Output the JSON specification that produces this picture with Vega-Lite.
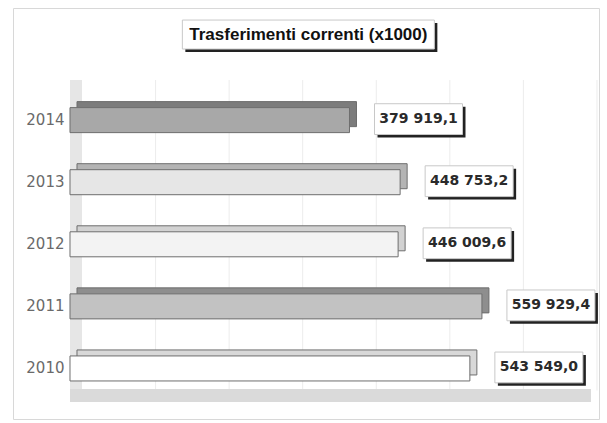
{
  "$schema": "https://vega.github.io/schema/vega-lite/v6.json",
  "width": 586,
  "height": 411,
  "autosize": "none",
  "padding": {"left": 13, "top": 8, "right": 8, "bottom": 4},
  "background": "white",
  "config": {
    "view": {"stroke": "#d8d8d8", "strokeWidth": 1},
    "locale": {"number": {"decimal": ",", "thousands": " ", "grouping": [3], "currency": ["", " €"]}}
  },
  "datasets": {
    "bars": [
      {"year": "2014", "value": 379919.1},
      {"year": "2013", "value": 448753.2},
      {"year": "2012", "value": 446009.6},
      {"year": "2011", "value": 559929.4},
      {"year": "2010", "value": 543549.0}
    ],
    "grid": [
      {"v": 100000}, {"v": 200000}, {"v": 300000}, {"v": 400000}, {"v": 500000}, {"v": 600000}, {"v": 700000}
    ],
    "wall": [{"v": 0}],
    "title": [{"t": "Trasferimenti correnti (x1000)"}]
  },
  "data": {"name": "bars"},
  "resolve": {"scale": {"color": "independent"}},
  "layer": [
    {
      "data": {"name": "grid"},
      "mark": {"type": "rule", "color": "#ececec", "strokeWidth": 1, "xOffset": 12, "x2Offset": 12, "yOffset": 22, "y2Offset": 22},
      "encoding": {
        "x": {"field": "v", "type": "quantitative", "scale": {"domain": [-77480, 719070], "nice": false, "zero": false}, "axis": null},
        "y": {"datum": "T", "type": "nominal"},
        "y2": {"datum": "2010"}
      }
    },
    {
      "data": {"name": "wall"},
      "mark": {"type": "rule", "color": "#e6e6e6", "strokeWidth": 12, "xOffset": 6, "x2Offset": 6, "yOffset": 22, "y2Offset": 22},
      "encoding": {
        "x": {"field": "v", "type": "quantitative"},
        "y": {"datum": "T", "type": "nominal"},
        "y2": {"datum": "2010"}
      }
    },
    {
      "data": {"name": "title"},
      "mark": {"type": "bar", "color": "#dadada", "size": 13, "yOffset": 27, "x2Offset": 6},
      "encoding": {
        "x": {"datum": 0, "type": "quantitative"},
        "x2": {"datum": 700000},
        "y": {"datum": "2010", "type": "nominal"}
      }
    },
    {
      "mark": {"type": "bar", "stroke": "#6e6e6e", "strokeWidth": 1, "xOffset": 7, "x2Offset": 7, "yOffset": -6, "y2Offset": -6},
      "encoding": {
        "y": {"field": "year", "type": "nominal",
          "scale": {"domain": ["T", "2014", "2013", "2012", "2011", "2010"], "range": [19, 391.5], "paddingInner": 0.597, "paddingOuter": 0.2985},
          "axis": {"orient": "left", "offset": -57, "domain": false, "ticks": false, "grid": false, "title": null,
            "labelPadding": 6, "labelFont": "DejaVu Sans", "labelFontSize": 15, "labelColor": "#6a6a6a",
            "labelExpr": "datum.value == 'T' ? '' : datum.label"}},
        "x": {"field": "value", "type": "quantitative"},
        "color": {"field": "year", "type": "nominal", "legend": null,
          "scale": {"domain": ["2014", "2013", "2012", "2011", "2010"], "range": ["#7c7c7c", "#b4b4b4", "#d2d2d2", "#8e8e8e", "#d8d8d8"]}}
      }
    },
    {
      "mark": {"type": "bar", "stroke": "#6e6e6e", "strokeWidth": 1},
      "encoding": {
        "y": {"field": "year", "type": "nominal"},
        "x": {"field": "value", "type": "quantitative"},
        "color": {"field": "year", "type": "nominal", "legend": null,
          "scale": {"domain": ["2014", "2013", "2012", "2011", "2010"], "range": ["#a8a8a8", "#e6e6e6", "#f3f3f3", "#c2c2c2", "#ffffff"]}}
      }
    },
    {
      "mark": {"type": "point", "shape": "M-1,-0.35H1V0.35H-1Z", "size": 7744, "filled": true, "fill": "#222222", "strokeOpacity": 0, "opacity": 1, "xOffset": 72, "yOffset": 2},
      "encoding": {
        "y": {"field": "year", "type": "nominal"},
        "x": {"field": "value", "type": "quantitative"}
      }
    },
    {
      "mark": {"type": "point", "shape": "M-1,-0.35H1V0.35H-1Z", "size": 7744, "filled": true, "fill": "#ffffff", "stroke": "#c8c8c8", "strokeWidth": 1, "opacity": 1, "xOffset": 69, "yOffset": -1},
      "encoding": {
        "y": {"field": "year", "type": "nominal"},
        "x": {"field": "value", "type": "quantitative"}
      }
    },
    {
      "mark": {"type": "text", "font": "DejaVu Sans", "fontWeight": "bold", "fontSize": 14, "color": "#2a2a2a", "align": "center", "baseline": "middle", "xOffset": 69, "yOffset": -1},
      "encoding": {
        "y": {"field": "year", "type": "nominal"},
        "x": {"field": "value", "type": "quantitative"},
        "text": {"field": "value", "type": "quantitative", "format": ",.1f"}
      }
    },
    {
      "data": {"name": "title"},
      "mark": {"type": "point", "shape": "M-1,-0.115H1V0.115H-1Z", "size": 63504, "filled": true, "fill": "#222222", "strokeOpacity": 0, "opacity": 1, "xOffset": 3, "yOffset": -20.5},
      "encoding": {
        "x": {"datum": 324000, "type": "quantitative"},
        "y": {"datum": "T", "type": "nominal"}
      }
    },
    {
      "data": {"name": "title"},
      "mark": {"type": "point", "shape": "M-1,-0.115H1V0.115H-1Z", "size": 63504, "filled": true, "fill": "#ffffff", "stroke": "#c8c8c8", "strokeWidth": 1, "opacity": 1, "yOffset": -23.5},
      "encoding": {
        "x": {"datum": 324000, "type": "quantitative"},
        "y": {"datum": "T", "type": "nominal"}
      }
    },
    {
      "data": {"name": "title"},
      "mark": {"type": "text", "font": "Liberation Sans", "fontWeight": "bold", "fontSize": 17, "color": "#111111", "align": "center", "baseline": "middle", "yOffset": -23},
      "encoding": {
        "x": {"datum": 324000, "type": "quantitative"},
        "y": {"datum": "T", "type": "nominal"},
        "text": {"field": "t", "type": "nominal"}
      }
    }
  ]
}
